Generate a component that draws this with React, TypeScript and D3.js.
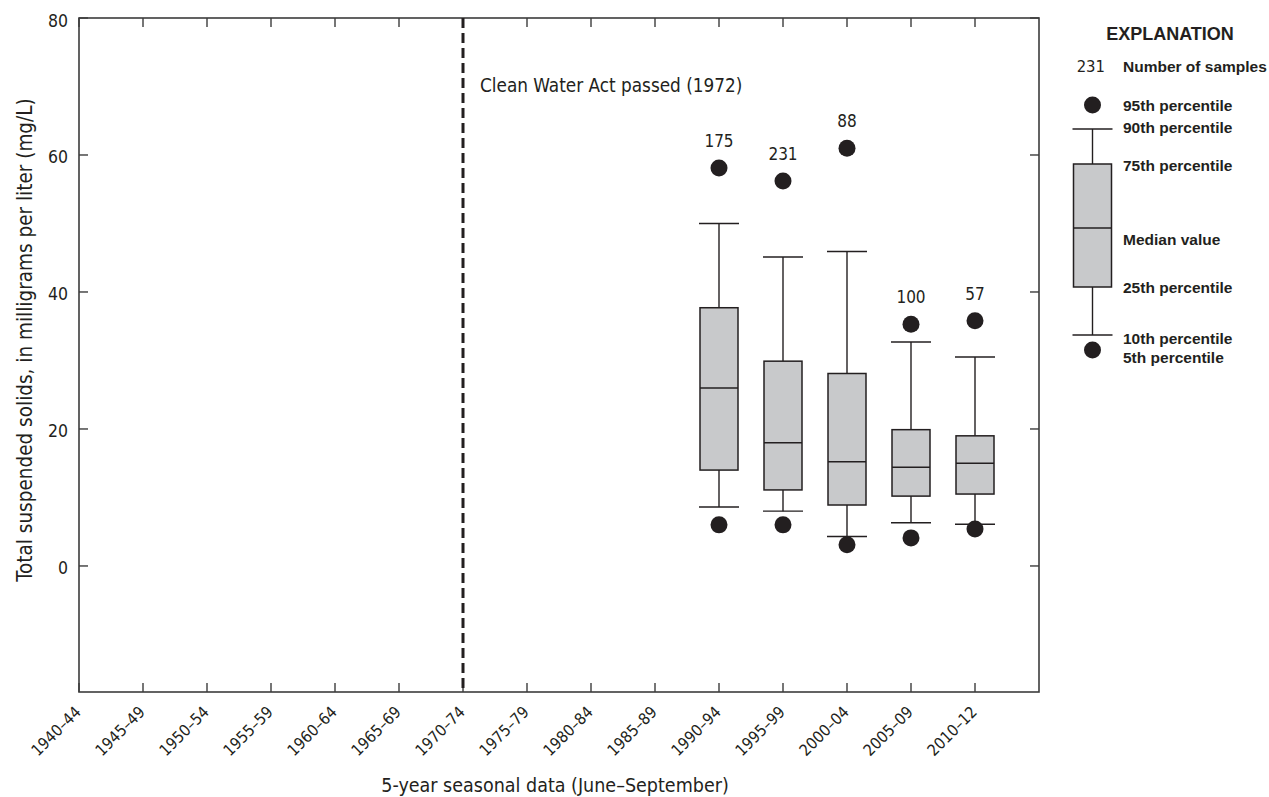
import React from "react";
import * as d3 from "d3";

const categories = [
  "1940–44", "1945–49", "1950–54", "1955–59", "1960–64", "1965–69", "1970–74",
  "1975–79", "1980–84", "1985–89", "1990–94", "1995–99", "2000–04", "2005–09", "2010–12",
];
const boxCategories = ["1990–94", "1995–99", "2000–04", "2005–09", "2010–12"];
const p5 = [6.0, 6.0, 3.1, 4.1, 5.4];
const p10 = [8.6, 8.0, 4.3, 6.3, 6.1];
const p25 = [14.0, 11.1, 8.9, 10.2, 10.5];
const p50 = [26.0, 18.0, 15.2, 14.4, 15.0];
const p75 = [37.7, 29.9, 28.1, 19.9, 19.0];
const p90 = [50.0, 45.1, 45.9, 32.7, 30.5];
const p95 = [58.1, 56.2, 61.0, 35.3, 35.8];
const sampleCounts = [175, 231, 88, 100, 57];
const yTicks = [0, 20, 40, 60, 80];
const yDomain = [-18.4, 80];
const eventCategory = "1970–74";
const eventLabel = "Clean Water Act passed (1972)";
const yTitle = "Total suspended solids, in milligrams per liter (mg/L)";
const xTitle = "5-year seasonal data (June–September)";
const legendItems = [
  "95th percentile", "90th percentile", "75th percentile", "Median value",
  "25th percentile", "10th percentile", "5th percentile",
];

const INK = "#231f20";
const FRAME = "#3c3c3c";
const BOXFILL = "#c8c9cb";
const NARROW = "'DejaVu Sans Condensed', 'DejaVu Sans', sans-serif";
const BOLD = "'Liberation Sans', Arial, sans-serif";

export default function App() {
  const left = 79, top = 18, bottom = 692;
  const x = d3.scalePoint<string>().domain(categories).range([79, 975]);
  const step = x.step();
  const right = (x(categories[categories.length - 1]) as number) + step;
  const y = d3.scaleLinear().domain(yDomain).range([bottom, top]);
  const boxW = 38;
  const capW = 40;
  const dotR = 8.5;
  const tickLen = 9;
  const ex = x(eventCategory) as number;

  // legend geometry
  const lgX = 1092.5;
  const lgTextX = 1123;
  const legVals = { p95: 105, p90: 129, p75: 164, p50: 228, p25: 287, p10: 335, p5: 350 };
  const legBaselines = [111, 133, 171, 245, 293, 344, 363];

  return (
    <svg
      width={1269}
      height={797}
      style={{ position: "absolute", left: 0, top: 0, background: "#fff" }}
      fontFamily={NARROW}
    >
      {/* frame */}
      <rect x={left} y={top} width={right - left} height={bottom - top} fill="none" stroke={FRAME} strokeWidth={1.6} />
      {/* x ticks top & bottom */}
      {categories.map((c) => {
        const cx = x(c) as number;
        return (
          <g key={c}>
            <line x1={cx} x2={cx} y1={bottom} y2={bottom - tickLen} stroke={FRAME} strokeWidth={1.4} />
            <line x1={cx} x2={cx} y1={top} y2={top + tickLen} stroke={FRAME} strokeWidth={1.4} />
            <text
              transform={`translate(${cx + 3},${bottom + 21}) rotate(-45)`}
              textAnchor="end"
              fontSize={16}
              fill={INK}
            >
              {c}
            </text>
          </g>
        );
      })}
      {/* y ticks left & right */}
      {yTicks.map((t) => (
        <g key={t}>
          <line x1={left} x2={left + tickLen} y1={y(t)} y2={y(t)} stroke={FRAME} strokeWidth={1.4} />
          <line x1={right} x2={right - tickLen} y1={y(t)} y2={y(t)} stroke={FRAME} strokeWidth={1.4} />
          <text x={68} y={y(t) + 8.5} textAnchor="end" fontSize={17.5} fill={INK}>
            {t}
          </text>
        </g>
      ))}
      {/* event line */}
      <line x1={ex} x2={ex} y1={top} y2={bottom} stroke={INK} strokeWidth={3} strokeDasharray="10,5" />
      <text x={ex + 17} y={92} fontSize={18.8} fill={INK}>
        {eventLabel}
      </text>
      {/* boxes */}
      {boxCategories.map((c, i) => {
        const cx = x(c) as number;
        return (
          <g key={c}>
            <line x1={cx} x2={cx} y1={y(p90[i])} y2={y(p75[i])} stroke={INK} strokeWidth={1.4} />
            <line x1={cx} x2={cx} y1={y(p25[i])} y2={y(p10[i])} stroke={INK} strokeWidth={1.4} />
            <line x1={cx - capW / 2} x2={cx + capW / 2} y1={y(p90[i])} y2={y(p90[i])} stroke={INK} strokeWidth={1.4} />
            <line x1={cx - capW / 2} x2={cx + capW / 2} y1={y(p10[i])} y2={y(p10[i])} stroke={INK} strokeWidth={1.4} />
            <rect
              x={cx - boxW / 2}
              y={y(p75[i])}
              width={boxW}
              height={y(p25[i]) - y(p75[i])}
              fill={BOXFILL}
              stroke={INK}
              strokeWidth={1.5}
            />
            <line x1={cx - boxW / 2} x2={cx + boxW / 2} y1={y(p50[i])} y2={y(p50[i])} stroke={INK} strokeWidth={1.5} />
            <circle cx={cx} cy={y(p95[i])} r={dotR} fill={INK} />
            <circle cx={cx} cy={y(p5[i])} r={dotR} fill={INK} />
            <text x={cx} y={y(p95[i]) - 21} textAnchor="middle" fontSize={17} fill={INK}>
              {sampleCounts[i]}
            </text>
          </g>
        );
      })}
      {/* axis titles */}
      <text transform={`translate(32,340) rotate(-90)`} textAnchor="middle" fontSize={20.5} fill={INK}>
        {yTitle}
      </text>
      <text x={(left + right) / 2 - 4} y={792} textAnchor="middle" fontSize={19.5} fill={INK}>
        {xTitle}
      </text>
      {/* legend */}
      <g>
        <text x={1170} y={40} textAnchor="middle" fontFamily={BOLD} fontWeight="bold" fontSize={18} fill={INK}>
          EXPLANATION
        </text>
        <text x={1105} y={72} textAnchor="end" fontSize={16.5} fill={INK}>
          231
        </text>
        <text x={lgTextX} y={72} fontFamily={BOLD} fontWeight="bold" fontSize={15.5} fill={INK}>
          Number of samples
        </text>
        <circle cx={lgX} cy={legVals.p95} r={dotR} fill={INK} />
        <line x1={lgX} x2={lgX} y1={legVals.p90} y2={legVals.p75} stroke={INK} strokeWidth={1.4} />
        <line x1={lgX} x2={lgX} y1={legVals.p25} y2={legVals.p10} stroke={INK} strokeWidth={1.4} />
        <line x1={lgX - 20} x2={lgX + 20} y1={legVals.p90} y2={legVals.p90} stroke={INK} strokeWidth={1.4} />
        <line x1={lgX - 20} x2={lgX + 20} y1={legVals.p10} y2={legVals.p10} stroke={INK} strokeWidth={1.4} />
        <rect x={lgX - 19} y={legVals.p75} width={38} height={legVals.p25 - legVals.p75} fill={BOXFILL} stroke={INK} strokeWidth={1.5} />
        <line x1={lgX - 19} x2={lgX + 19} y1={legVals.p50} y2={legVals.p50} stroke={INK} strokeWidth={1.5} />
        <circle cx={lgX} cy={legVals.p5} r={dotR} fill={INK} />
        {legendItems.map((t, i) => (
          <text key={t} x={lgTextX} y={legBaselines[i]} fontFamily={BOLD} fontWeight="bold" fontSize={15.5} fill={INK}>
            {t}
          </text>
        ))}
      </g>
    </svg>
  );
}
